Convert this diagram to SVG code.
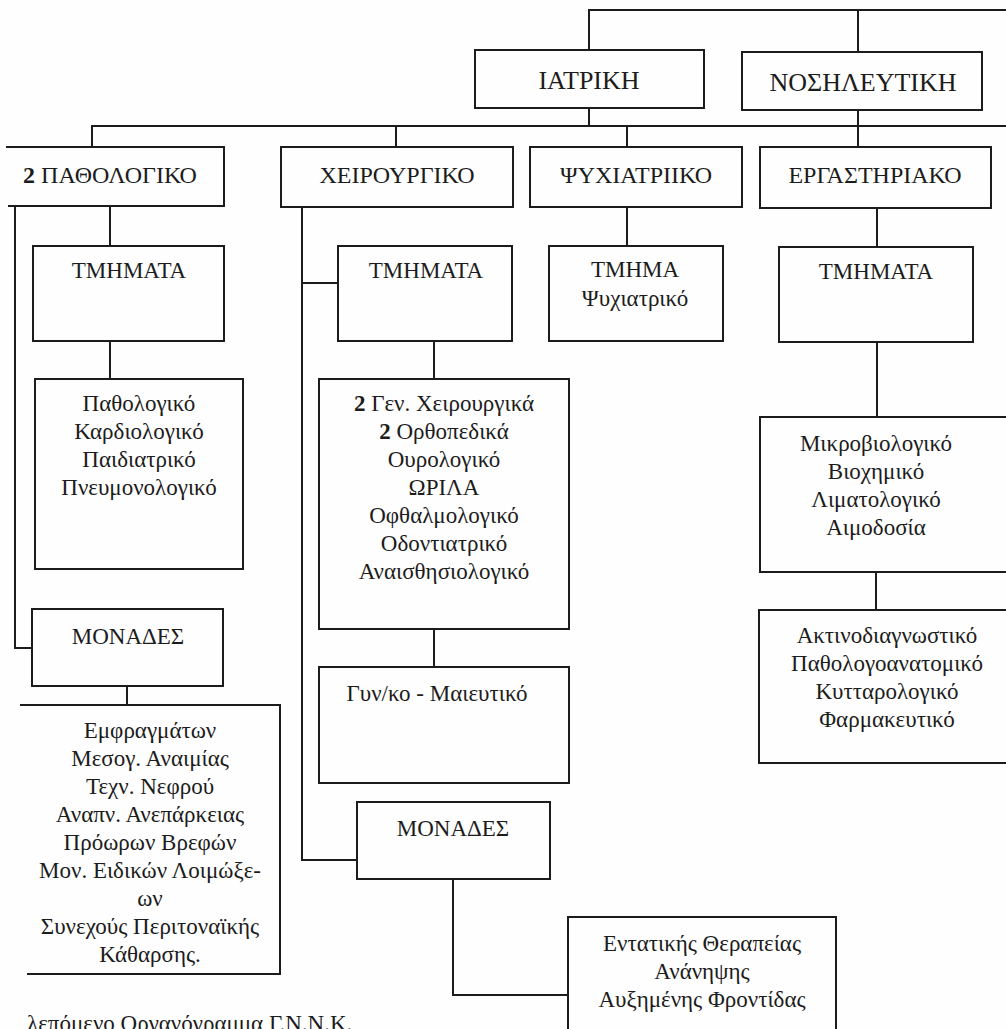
<svg xmlns="http://www.w3.org/2000/svg" width="1006" height="1029" viewBox="0 0 1006 1029">
<style>
.b{fill:none;stroke:#1c1c1c;stroke-width:2}
.c{fill:none;stroke:#1c1c1c;stroke-width:2}
text{font-family:'Liberation Serif','Times New Roman','DejaVu Serif',serif;fill:#1c1c1c;text-anchor:middle;font-size:23px}
.h{font-size:24px}
.top{font-size:26px}
.bold{font-weight:bold}
</style>
<rect x="0" y="0" width="1006" height="1029" fill="#fefefe"/>
<g id="connectors">
<path class="c" d="M589,50 V10 H1006"/>
<path class="c" d="M858,10 V52"/>
<path class="c" d="M589,108 V126"/>
<path class="c" d="M92,147 V126 H1006"/>
<path class="c" d="M396,126 V147"/>
<path class="c" d="M627,126 V147"/>
<path class="c" d="M858,110 V147"/>
<path class="c" d="M110,206 V246"/>
<path class="c" d="M110,341 V379"/>
<path class="c" d="M15,206 V648 H32"/>
<path class="c" d="M127,686 V705"/>
<path class="c" d="M302,207 V860 H357"/>
<path class="c" d="M302,283 H338"/>
<path class="c" d="M434,341 V379"/>
<path class="c" d="M434,629 V667"/>
<path class="c" d="M453,879 V995 H568"/>
<path class="c" d="M627,207 V246"/>
<path class="c" d="M877,208 V247"/>
<path class="c" d="M877,342 V417"/>
<path class="c" d="M876,572 V610"/>
</g>
<g id="iatriki"><rect class="b" x="475" y="50" width="229" height="58"/><text class="top" x="589" y="89" font-family="Liberation Serif, serif">ΙΑΤΡΙΚΗ</text></g>
<g id="nosileftiki"><rect class="b" x="742" y="52" width="240" height="58"/><text class="top" x="863" y="91" font-family="Liberation Serif, serif">ΝΟΣΗΛΕΥΤΙΚΗ</text></g>
<g id="pathologiko"><path class="b" d="M6,147 H224 V206 H8"/><text class="h" x="110" y="183"><tspan class="bold">2</tspan> ΠΑΘΟΛΟΓΙΚΟ</text></g>
<g id="xeirourgiko"><rect class="b" x="281" y="147" width="232" height="60"/><text class="h" x="397" y="183">ΧΕΙΡΟΥΡΓΙΚΟ</text></g>
<g id="psyxiatriko"><rect class="b" x="530" y="147" width="212" height="60"/><text class="h" x="636" y="183">ΨΥΧΙΑΤΡΙΙΚΟ</text></g>
<g id="ergastiriako"><rect class="b" x="760" y="147" width="231" height="61"/><text class="h" x="875" y="183">ΕΡΓΑΣΤΗΡΙΑΚΟ</text></g>
<g id="tmimata-path"><rect class="b" x="33" y="246" width="191" height="95"/><text x="129" y="278">ΤΜΗΜΑΤΑ</text></g>
<g id="list-path"><rect class="b" x="35" y="379" width="208" height="190"/>
<text x="139" y="411">Παθολογικό</text><text x="139" y="439">Καρδιολογικό</text><text x="139" y="467">Παιδιατρικό</text><text x="139" y="495">Πνευμονολογικό</text></g>
<g id="monades-path"><rect class="b" x="32" y="609" width="191" height="77"/><text x="128" y="644">ΜΟΝΑΔΕΣ</text></g>
<g id="list-monades-path"><path class="b" d="M20,705 H280 V974 H27"/>
<text x="150" y="738">Εμφραγμάτων</text><text x="150" y="766">Μεσογ. Αναιμίας</text><text x="150" y="794">Τεχν. Νεφρού</text><text x="150" y="822">Αναπν. Ανεπάρκειας</text><text x="150" y="850">Πρόωρων Βρεφών</text><text x="150" y="878">Μον. Ειδικών Λοιμώξε-</text><text x="150" y="906">ων</text><text x="150" y="934">Συνεχούς Περιτοναϊκής</text><text x="150" y="962">Κάθαρσης.</text></g>
<g id="tmimata-xeir"><rect class="b" x="338" y="246" width="174" height="95"/><text x="426" y="278">ΤΜΗΜΑΤΑ</text></g>
<g id="list-xeir"><rect class="b" x="319" y="379" width="250" height="250"/>
<text x="444" y="411"><tspan class="bold">2</tspan> Γεν. Χειρουργικά</text><text x="444" y="439"><tspan class="bold">2</tspan> Ορθοπεδικά</text><text x="444" y="467">Ουρολογικό</text><text x="444" y="495">ΩΡΙΛΑ</text><text x="444" y="523">Οφθαλμολογικό</text><text x="444" y="551">Οδοντιατρικό</text><text x="444" y="579">Αναισθησιολογικό</text></g>
<g id="gyn"><rect class="b" x="319" y="667" width="250" height="116"/><text x="437" y="701">Γυν/κο - Μαιευτικό</text></g>
<g id="monades-xeir"><rect class="b" x="357" y="802" width="193" height="77"/><text x="453" y="836">ΜΟΝΑΔΕΣ</text></g>
<g id="entatikis"><rect class="b" x="568" y="917" width="268" height="120"/>
<text x="702" y="951">Εντατικής Θεραπείας</text><text x="702" y="979">Ανάνηψης</text><text x="702" y="1007">Αυξημένης Φροντίδας</text></g>
<g id="tmima-psy"><rect class="b" x="549" y="246" width="174" height="95"/><text x="635" y="277">ΤΜΗΜΑ</text><text x="635" y="306">Ψυχιατρικό</text></g>
<g id="tmimata-erg"><rect class="b" x="779" y="247" width="194" height="95"/><text x="876" y="279">ΤΜΗΜΑΤΑ</text></g>
<g id="list-erg1"><path class="b" d="M1010,417 H760 V572 H1010"/>
<text x="876" y="451">Μικροβιολογικό</text><text x="876" y="479">Βιοχημικό</text><text x="876" y="507">Λιματολογικό</text><text x="876" y="535">Αιμοδοσία</text></g>
<g id="list-erg2"><path class="b" d="M1010,610 H759 V763 H1010"/>
<text x="887" y="643">Ακτινοδιαγνωστικό</text><text x="887" y="671">Παθολογοανατομικό</text><text x="887" y="699">Κυτταρολογικό</text><text x="887" y="727">Φαρμακευτικό</text></g>
<text x="27" y="1031" style="text-anchor:start">λεπόμενο Οργανόγραμμα Γ.Ν.Ν.Κ.</text>
</svg>
